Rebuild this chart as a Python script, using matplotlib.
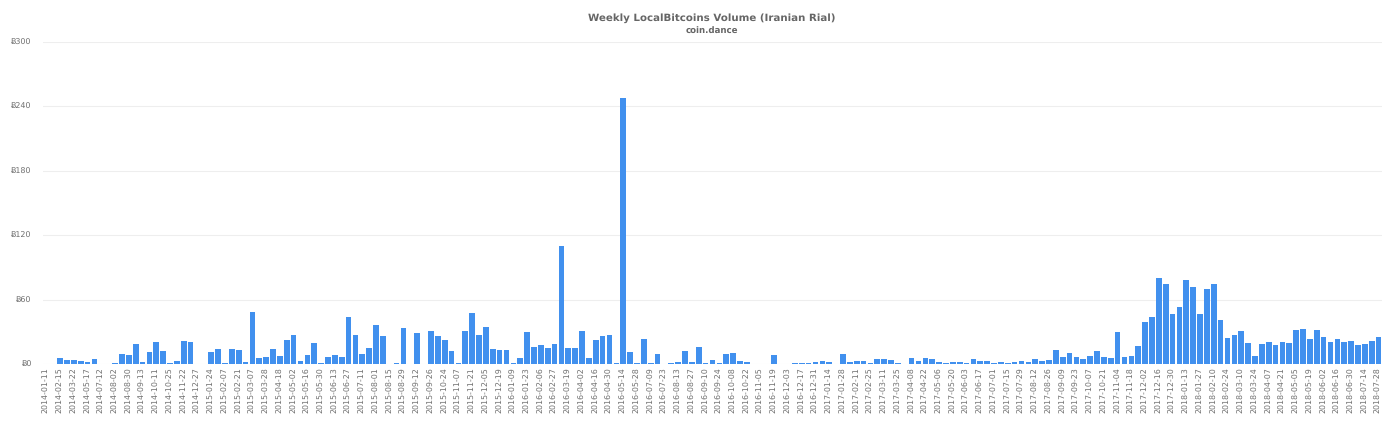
import matplotlib
matplotlib.use("Agg")
import matplotlib.pyplot as plt

# every second week gets a label, weeks without trades are missing in the source
week_labels = [
    "2014-01-11", "2014-02-15", "2014-03-22", "2014-05-17", "2014-07-12", "2014-08-02", "2014-08-30",
    "2014-09-13", "2014-10-11", "2014-10-25", "2014-11-22", "2014-12-27", "2015-01-24", "2015-02-07",
    "2015-02-21", "2015-03-07", "2015-03-28", "2015-04-18", "2015-05-02", "2015-05-16", "2015-05-30",
    "2015-06-13", "2015-06-27", "2015-07-11", "2015-08-01", "2015-08-15", "2015-08-29", "2015-09-12",
    "2015-09-26", "2015-10-24", "2015-11-07", "2015-11-21", "2015-12-05", "2015-12-19", "2016-01-09",
    "2016-01-23", "2016-02-06", "2016-02-27", "2016-03-19", "2016-04-02", "2016-04-16", "2016-04-30",
    "2016-05-14", "2016-05-28", "2016-07-09", "2016-07-23", "2016-08-13", "2016-08-27", "2016-09-10",
    "2016-09-24", "2016-10-08", "2016-10-22", "2016-11-05", "2016-11-19", "2016-12-03", "2016-12-17",
    "2016-12-31", "2017-01-14", "2017-01-28", "2017-02-11", "2017-02-25", "2017-03-11", "2017-03-25",
    "2017-04-08", "2017-04-22", "2017-05-06", "2017-05-20", "2017-06-03", "2017-06-17", "2017-07-01",
    "2017-07-15", "2017-07-29", "2017-08-12", "2017-08-26", "2017-09-09", "2017-09-23", "2017-10-07",
    "2017-10-21", "2017-11-04", "2017-11-18", "2017-12-02", "2017-12-16", "2017-12-30", "2018-01-13",
    "2018-01-27", "2018-02-10", "2018-02-24", "2018-03-10", "2018-03-24", "2018-04-07", "2018-04-21",
    "2018-05-05", "2018-05-19", "2018-06-02", "2018-06-16", "2018-06-30", "2018-07-14", "2018-07-28",
]

volume_2014_2015 = [
    0.2, 0, 5.9, 3.7, 4, 2.8, 2.2, 4.3, 0, 0, 0.6, 9.3, 8.7, 18.3, 1.6, 10.9, 20.8, 11.8, 0.6, 2.5,
    21.4, 20.2, 0.3, 0.3, 11.2, 14.3, 0.6, 14.3, 13, 1.9, 48, 5.9, 6.8, 13.6, 7.4, 22.3, 27, 2.5, 8,
    19.5, 0.9, 6.8, 8, 6.8, 44, 27.3, 9.6, 15.2, 36.6, 26, 0, 1.2, 33.8, 0, 28.8, 0, 31, 26.4, 22.3,
    12.4, 0.6, 30.7, 47.4, 26.7, 34, 14.3, 13, 13, 0.6,
]
volume_2016 = [
    5.9, 30, 15.8, 17.4, 14.9, 18.6, 109.8, 14.9, 14.9, 30.7, 5.3, 22.3, 26.4, 27.3, 0.6, 247.4, 11.5,
    0.6, 23.6, 0.6, 9.3, 0, 1.2, 2.2, 11.8, 2.2, 15.8, 0.9, 3.4, 0.9, 9.3, 10.5, 2.5, 2.2, 0.3, 0.4,
    0.4, 8, 0, 0.4, 0.6, 0.5, 0.5, 1.9,
]
volume_2017 = [
    2.8, 2.2, 0, 9.3, 1.9, 3.1, 2.8, 1.2, 4.7, 4.7, 3.4, 1.2, 0.2, 5.9, 2.8, 5.9, 5, 1.6, 1.2, 1.6,
    1.6, 0.6, 4.3, 2.5, 2.5, 1.2, 2.2, 0.9, 2.2, 2.8, 2.2, 4.7, 3.1, 3.4, 13.3, 6.2, 10.5, 6.5, 5,
    7.1, 12.1, 6.8, 5.3, 29.8, 6.2, 7.4, 17, 39, 44, 79.7, 74, 46.8,
]
volume_2018 = [
    53.3, 78, 72, 46.2, 69.8, 74.7, 41, 24.2, 27, 31, 19.5, 7.8, 18.9, 20.5, 17.4, 20.5, 19.8, 31.6,
    32.9, 23, 32, 24.8, 20.8, 23, 20.2, 21, 18, 18.9, 21, 25.4,
]
volume = volume_2014_2015 + volume_2016 + volume_2017 + volume_2018

y_ticks = [0, 60, 120, 180, 240, 300]
y_labels = ["Ƀ0", "Ƀ60", "Ƀ120", "Ƀ180", "Ƀ240", "Ƀ300"]

plt.rcParams["text.hinting"] = "none"

W, H = 1392, 424
fig = plt.figure(figsize=(W / 100, H / 100), dpi=100)
ax = fig.add_axes([43 / W, 1 - 364 / H, 1339 / W, (364 - 41.5) / H])

ax.bar(range(len(volume)), volume, width=0.82, color="#4190ee", zorder=3)

ax.set_xlim(-0.5, len(volume) - 0.5)
ax.set_ylim(0, 300)
ax.set_yticks(y_ticks)
ax.set_yticklabels(y_labels, fontsize=5.7, color="#707070")
ax.set_xticks(range(0, len(volume), 2))
ax.set_xticklabels(week_labels, rotation=90, fontsize=5.7, color="#707070")
ax.tick_params(axis="both", length=0)
ax.tick_params(axis="y", pad=8)
ax.tick_params(axis="x", pad=2)
ax.grid(axis="y", color="#eeeeee", linewidth=0.8, zorder=0)
for side in ax.spines:
    ax.spines[side].set_visible(False)

fig.text(712 / W, 1 - 18.5 / H, "Weekly LocalBitcoins Volume (Iranian Rial)", ha="center", va="center",
         fontsize=7.35, fontweight="bold", color="#666666")
fig.text(712 / W, 1 - 30 / H, "coin.dance", ha="center", va="center",
         fontsize=6.2, fontweight="bold", color="#666666")

fig.savefig("out.png", dpi=100)
